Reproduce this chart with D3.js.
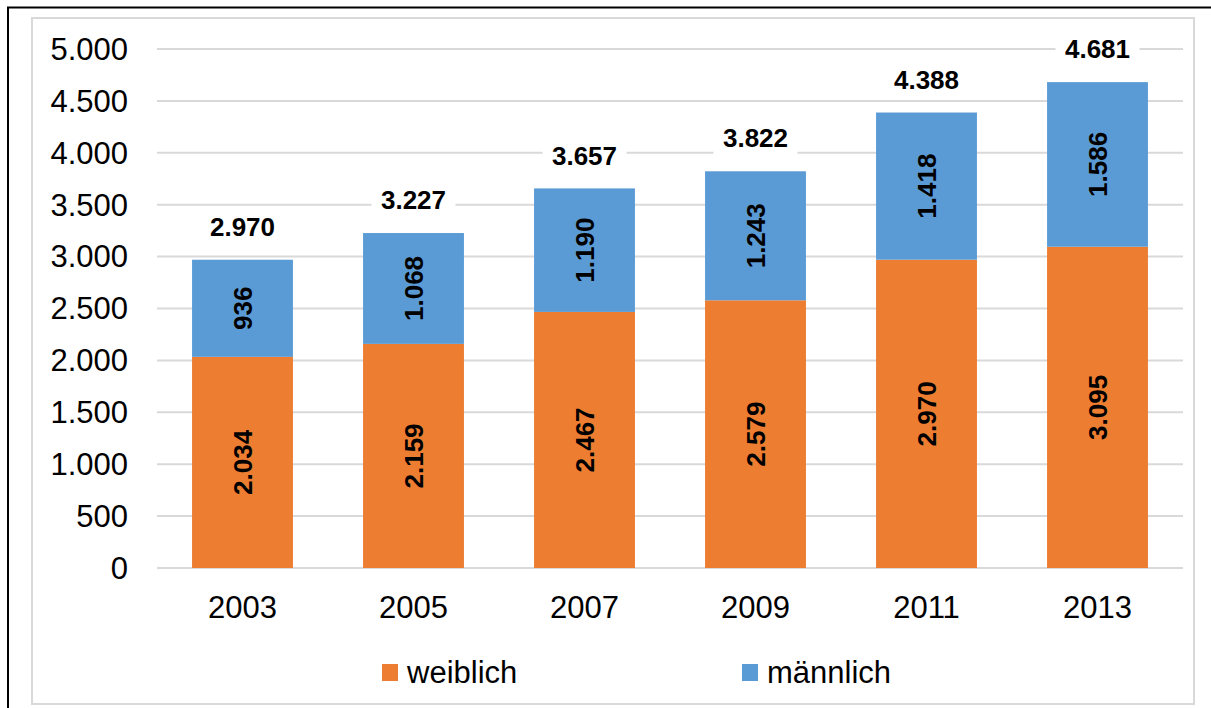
<!DOCTYPE html>
<html>
<head>
<meta charset="utf-8">
<script src="https://cdn.jsdelivr.net/npm/d3@7"></script>
<style>
  body { margin: 0; background: #fff; }
  svg { display: block; font-family: "Liberation Sans", Arial, sans-serif; }
</style>
</head>
<body>
<div id="chart"></div>
<script>
// data
var years = ["2003", "2005", "2007", "2009", "2011", "2013"];
var weiblich = [2034, 2159, 2467, 2579, 2970, 3095];
var maennlich = [936, 1068, 1190, 1243, 1418, 1586];
var totals = [2970, 3227, 3657, 3822, 4388, 4681];
var yTicks = [0, 500, 1000, 1500, 2000, 2500, 3000, 3500, 4000, 4500, 5000];
var seriesNames = ["weiblich", "männlich"];
var seriesColors = ["#ED7D31", "#5B9BD5"];

var width = 1211, height = 708;
var de = d3.formatLocale({decimal: ",", thousands: ".", grouping: [3], currency: ["", " €"]});
var fmt = de.format(",d");

var svg = d3.select("#chart").append("svg")
    .attr("width", width)
    .attr("height", height);

// outer frames
svg.append("rect")
    .attr("x", 8).attr("y", 7.5)
    .attr("width", 1230).attr("height", 720)
    .attr("fill", "none").attr("stroke", "#000").attr("stroke-width", 2);
svg.append("rect")
    .attr("x", 32).attr("y", 18)
    .attr("width", 1162).attr("height", 686)
    .attr("fill", "none").attr("stroke", "#D9D9D9").attr("stroke-width", 2);

var plot = {left: 157, right: 1183, top: 49, bottom: 568};

var x = d3.scaleBand()
    .domain(years)
    .range([plot.left, plot.right])
    .paddingInner(0.41)
    .paddingOuter(0.205);

var y = d3.scaleLinear()
    .domain([0, 5000])
    .range([plot.bottom, plot.top]);

// gridlines
svg.append("g").selectAll("line")
    .data(yTicks)
    .enter().append("line")
    .attr("x1", plot.left).attr("x2", plot.right)
    .attr("y1", d => y(d)).attr("y2", d => y(d))
    .attr("stroke", "#D9D9D9").attr("stroke-width", 2);

// y labels
svg.append("g").selectAll("text")
    .data(yTicks)
    .enter().append("text")
    .attr("x", 128)
    .attr("y", d => y(d))
    .attr("dy", "0.35em")
    .attr("text-anchor", "end")
    .style("font-size", "31px")
    .attr("fill", "#000")
    .text(d => fmt(d));

// stacked data
var rows = years.map((yr, i) => ({year: yr, weiblich: weiblich[i], "männlich": maennlich[i]}));
var stacked = d3.stack().keys(seriesNames)(rows);

var layers = svg.append("g").selectAll("g")
    .data(stacked)
    .enter().append("g")
    .attr("fill", (d, i) => seriesColors[i]);

layers.selectAll("rect")
    .data(d => d)
    .enter().append("rect")
    .attr("x", d => x(d.data.year))
    .attr("width", x.bandwidth())
    .attr("y", d => y(d[1]))
    .attr("height", d => y(d[0]) - y(d[1]));

// segment labels (rotated)
layers.selectAll("text")
    .data(d => d)
    .enter().append("text")
    .attr("transform", d => "translate(" + (x(d.data.year) + x.bandwidth() / 2) + "," + ((y(d[0]) + y(d[1])) / 2) + ") rotate(-90)")
    .attr("dy", "0.35em")
    .attr("text-anchor", "middle")
    .style("font-size", "26px")
    .style("font-weight", "bold")
    .attr("fill", "#000")
    .text(d => fmt(d[1] - d[0]));

// total labels with white box
var tot = svg.append("g").selectAll("g")
    .data(years)
    .enter().append("g")
    .attr("transform", (d, i) => "translate(" + (x(d) + x.bandwidth() / 2) + "," + (y(totals[i]) - 33) + ")");
tot.append("rect")
    .attr("x", -42).attr("y", -18)
    .attr("width", 84).attr("height", 36)
    .attr("fill", "#fff");
tot.append("text")
    .attr("dy", "0.35em")
    .attr("text-anchor", "middle")
    .style("font-size", "26px")
    .style("font-weight", "bold")
    .attr("fill", "#000")
    .text((d, i) => fmt(totals[i]));

// x labels
svg.append("g").selectAll("text")
    .data(years)
    .enter().append("text")
    .attr("x", d => x(d) + x.bandwidth() / 2)
    .attr("y", 607)
    .attr("dy", "0.35em")
    .attr("text-anchor", "middle")
    .style("font-size", "31px")
    .attr("fill", "#000")
    .text(d => d);

// legend
var legendX = [382, 742];
var legend = svg.append("g").selectAll("g")
    .data(seriesNames)
    .enter().append("g")
    .attr("transform", (d, i) => "translate(" + legendX[i] + ",664)");
legend.append("rect")
    .attr("width", 16).attr("height", 17)
    .attr("fill", (d, i) => seriesColors[i]);
legend.append("text")
    .attr("x", 25).attr("y", 8)
    .attr("dy", "0.35em")
    .style("font-size", "31px")
    .attr("fill", "#000")
    .text(d => d);
</script>
</body>
</html>
